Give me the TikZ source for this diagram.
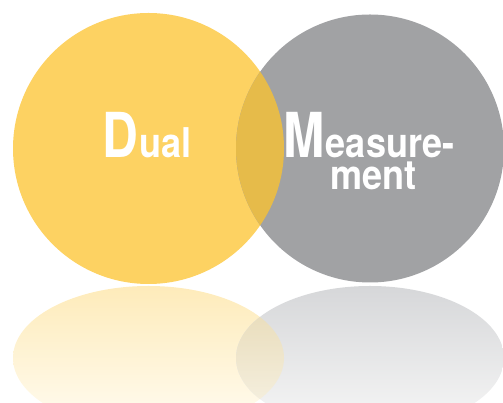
\documentclass[tikz,border=0pt]{standalone}
\usepackage{fontspec}
\newfontfamily\dmbigfont[FakeStretch=0.8]{TeX Gyre Heros}
\newfontfamily\dmsmallfont[FakeStretch=0.88]{TeX Gyre Heros}
\definecolor{dmyellow}{RGB}{253,210,98}
\definecolor{dmgray}{RGB}{161,162,164}
\definecolor{dmlens}{RGB}{230,187,74}
\begin{document}
\begin{tikzpicture}[x=1pt,y=1pt]
            \tikzset{
                big/.style={text=white,inner sep=0pt,font=\dmbigfont\bfseries\fontsize{62}{62}\selectfont},
                small/.style={text=white,inner sep=0pt,font=\dmsmallfont\bfseries\fontsize{41}{41}\selectfont},}
            \useasboundingbox (0,0) rectangle (503,403);
            \def\leftcirc{(148.5,254.5) circle (135.5)}
            \def\rightcirc{(370,254.5) circle (134)}
            \def\leftrefl{(148.5,45) ellipse (135.5 and 72)}
            \def\rightrefl{(370,45) ellipse (134 and 72)}
            % reflection
            \begin{scope}
                \clip (0,0) rectangle (503,403);
                \shade [top color={rgb,255:red,254;green,235;blue,186},bottom color={rgb,255:red,255;green,252;blue,242}] \leftrefl;
                \shade [top color={rgb,255:red,214;green,215;blue,217},bottom color={rgb,255:red,247;green,247;blue,247}] \rightrefl;
                \begin{scope}
                    \clip \leftrefl;
                    \shade [top color={rgb,255:red,230;green,216;blue,178},bottom color={rgb,255:red,248;green,244;blue,232}] \rightrefl;
                \end{scope}
            \end{scope}
            % circles
            \fill [dmyellow] \leftcirc;
            \fill [dmgray] \rightcirc;
            \begin{scope}
                \clip \leftcirc;
                \fill [dmlens] \rightcirc;
            \end{scope}
            \node [big,anchor=base west] (d) at (102,245) {D};
            \node [small,anchor=base west] (ual) at ([xshift=1]d.base east) {ual};
            \node [big,anchor=base west] (m) at (283,245) {M};
            \node [small,anchor=base west] (easure) at ([xshift=1]m.base east) {easure-};
            \node [small,anchor=base west] (ment) at (330,213) {ment};
        \end{tikzpicture}
\end{document}
